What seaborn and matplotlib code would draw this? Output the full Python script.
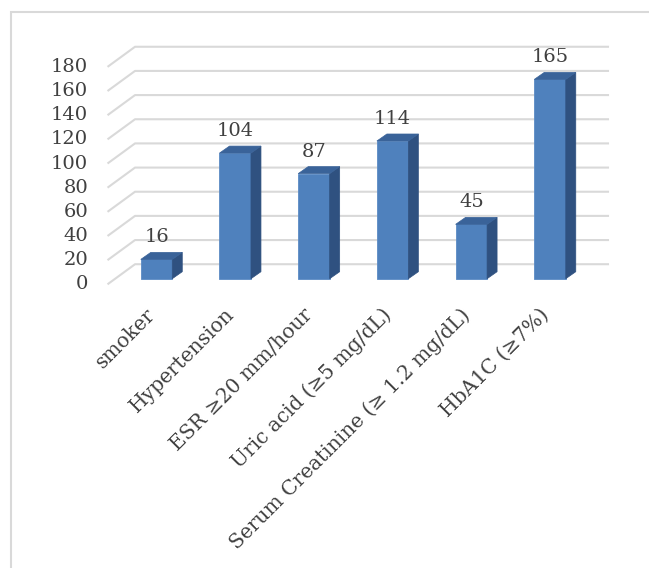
import numpy as np
import matplotlib
matplotlib.use("Agg")
import matplotlib.pyplot as plt
from matplotlib.patches import Polygon, Rectangle
import seaborn as sns

# data
categories = ["smoker", "Hypertension", "ESR \u226520 mm/hour",
              "Uric acid (\u22655 mg/dL)", "Serum Creatinine (\u2265 1.2 mg/dL)",
              "HbA1C (\u22657%)"]
values = [16, 104, 87, 114, 45, 165]
y_ticks = list(range(0, 181, 20))

plt.rcParams['font.family'] = ['DejaVu Serif']

W, H = 649, 568
fig = plt.figure(figsize=(W / 100, H / 100), dpi=100)
ax = fig.add_axes([97.5 / W, (H - 290.8) / H, 515.5 / W, 253.7 / H])

front = "#4f81bd"
side = "#2f5180"
top = "#3a6399"
grid = "#d9d9d9"
txt = "#404040"

sns.barplot(x=categories, y=values, width=0.4, color=front, saturation=1,
            edgecolor="#5b8bc5", linewidth=0.6, ax=ax, zorder=3)
ax.set_xlim(-0.75, 5.8)
ax.set_ylim(-10, 200)

# pixel -> data conversion
sx = 515.5 / 6.55
sy = 253.7 / 210
dxu, dyu = 10 / sx, 7 / sy
front_off, back_off = -5.6 / sy, 14.5 / sy
x_front, x_back, x_end = (107.5 - 156.5) / sx, (135 - 156.5) / sx, (609 - 156.5) / sx

# back wall gridlines with perspective
for v in y_ticks:
    ax.plot([x_front, x_back, x_end], [v + front_off, v + back_off, v + back_off],
            color=grid, lw=1.5, zorder=1, clip_on=False, solid_capstyle="butt")
    ax.text((88 - 156.5) / sx, v + front_off, str(v), ha="right", va="center",
            fontsize=14, color=txt)

# 3d sides and tops
for p, v in zip(ax.patches, values):
    x0 = p.get_x()
    x1 = x0 + p.get_width()
    h = p.get_height()
    ax.add_patch(Polygon([(x1, 0), (x1 + dxu, dyu), (x1 + dxu, h + dyu), (x1, h)],
                         closed=True, fc=side, ec=side, lw=0.5, zorder=3))
    ax.add_patch(Polygon([(x0, h), (x0 + dxu, h + dyu), (x1 + dxu, h + dyu), (x1, h)],
                         closed=True, fc=top, ec=top, lw=0.5, zorder=3))
    ax.text((x0 + x1) / 2, h + 17 / sy, str(v), ha="center", va="baseline",
            fontsize=14, color=txt)

# rotated category labels
ax.set_xticks([])
ax.set_yticks([])
for i, c in enumerate(categories):
    ax.text(i - 11 / sx, -26 / sy, c, rotation=45, ha="right", va="top",
            rotation_mode="anchor", fontsize=14.5, color=txt, clip_on=False)

for s in ax.spines.values():
    s.set_visible(False)
ax.patch.set_alpha(0)
ax.set_xlabel("")
ax.set_ylabel("")

fig.add_artist(Rectangle((10.5 / W, -0.1), 1.0, (H - 12) / H + 0.1,
                         transform=fig.transFigure, fill=False,
                         ec=grid, lw=1.5))

fig.savefig("out.png", dpi=100)
